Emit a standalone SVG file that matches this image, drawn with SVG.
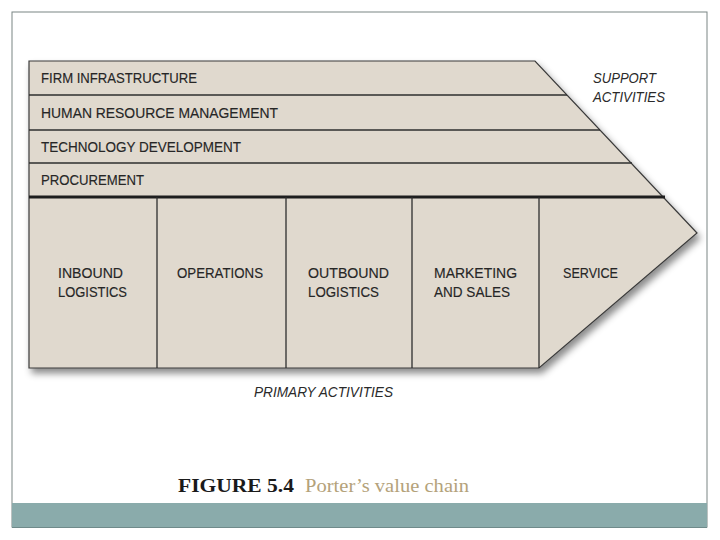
<svg xmlns="http://www.w3.org/2000/svg" width="720" height="540" viewBox="0 0 720 540">
<defs>
<filter id="sh" x="-10%" y="-10%" width="130%" height="130%">
<feDropShadow dx="3" dy="5" stdDeviation="3.5" flood-color="#000" flood-opacity="0.45"/>
</filter>
<style>
.lbl{font-family:"Liberation Sans","DejaVu Sans",sans-serif;font-size:15px;fill:#262626;stroke:#262626;stroke-width:0.15}
.it{font-family:"Liberation Sans","DejaVu Sans",sans-serif;font-size:14px;font-style:italic;fill:#2a2a2a}
.ln{stroke:#2e2e2e;stroke-width:1.3;fill:none}
</style>
</defs>
<rect x="0" y="0" width="720" height="540" fill="#ffffff"/>
<rect x="12" y="12" width="695" height="515" fill="#ffffff" stroke="#7a8584" stroke-width="1"/>
<rect x="12" y="503" width="695" height="25" fill="#8aabab"/>
<line x1="12" y1="527.5" x2="707" y2="527.5" stroke="#6f8a8a" stroke-width="1"/>

<g id="chain">
<path d="M29,61 L535,61 L697,233 L539,368 L29,368 Z" fill="#e0d9ce" stroke="#3a3a3a" stroke-width="1.2" filter="url(#sh)"/>
</g>

<g id="connectors">
<line class="ln" x1="29" y1="95" x2="567" y2="95"/>
<line class="ln" x1="29" y1="130" x2="600" y2="130"/>
<line class="ln" x1="29" y1="163" x2="632" y2="163"/>
<line x1="29" y1="197" x2="665" y2="197" stroke="#1e1e1e" stroke-width="3"/>
<line class="ln" x1="157" y1="197" x2="157" y2="368"/>
<line class="ln" x1="286" y1="197" x2="286" y2="368"/>
<line class="ln" x1="412" y1="197" x2="412" y2="368"/>
<line class="ln" x1="539" y1="197" x2="539" y2="368"/>
</g>

<g id="firm-infrastructure"><text class="lbl" x="41" y="83" textLength="156" lengthAdjust="spacingAndGlyphs">FIRM INFRASTRUCTURE</text></g>
<g id="human-resource"><text class="lbl" x="41" y="118" textLength="237" lengthAdjust="spacingAndGlyphs">HUMAN RESOURCE MANAGEMENT</text></g>
<g id="technology"><text class="lbl" x="41" y="152" textLength="200" lengthAdjust="spacingAndGlyphs">TECHNOLOGY DEVELOPMENT</text></g>
<g id="procurement"><text class="lbl" x="41" y="185" textLength="103" lengthAdjust="spacingAndGlyphs">PROCUREMENT</text></g>

<g id="inbound"><text class="lbl" x="58" y="278" textLength="65" lengthAdjust="spacingAndGlyphs">INBOUND</text><text class="lbl" x="58" y="297" textLength="69" lengthAdjust="spacingAndGlyphs">LOGISTICS</text></g>
<g id="operations"><text class="lbl" x="177" y="278" textLength="86" lengthAdjust="spacingAndGlyphs">OPERATIONS</text></g>
<g id="outbound"><text class="lbl" x="308" y="278" textLength="81" lengthAdjust="spacingAndGlyphs">OUTBOUND</text><text class="lbl" x="308" y="297" textLength="71" lengthAdjust="spacingAndGlyphs">LOGISTICS</text></g>
<g id="marketing"><text class="lbl" x="434" y="278" textLength="83" lengthAdjust="spacingAndGlyphs">MARKETING</text><text class="lbl" x="434" y="297" textLength="76" lengthAdjust="spacingAndGlyphs">AND SALES</text></g>
<g id="service"><text class="lbl" x="563" y="278" textLength="55" lengthAdjust="spacingAndGlyphs">SERVICE</text></g>

<g id="support-label"><text class="it" x="593" y="83" textLength="63" lengthAdjust="spacingAndGlyphs">SUPPORT</text><text class="it" x="593" y="102" textLength="72" lengthAdjust="spacingAndGlyphs">ACTIVITIES</text></g>
<g id="primary-label"><text class="it" x="254" y="397" textLength="139" lengthAdjust="spacingAndGlyphs">PRIMARY ACTIVITIES</text></g>

<g id="caption">
<text x="178" y="492" font-family="Liberation Serif,serif" font-weight="bold" font-size="19" fill="#1a1a1a" textLength="116" lengthAdjust="spacingAndGlyphs">FIGURE 5.4</text>
<text x="305" y="492" font-family="Liberation Serif,serif" font-size="19" fill="#b4a27a" textLength="164" lengthAdjust="spacingAndGlyphs">Porter’s value chain</text>
</g>
</svg>
